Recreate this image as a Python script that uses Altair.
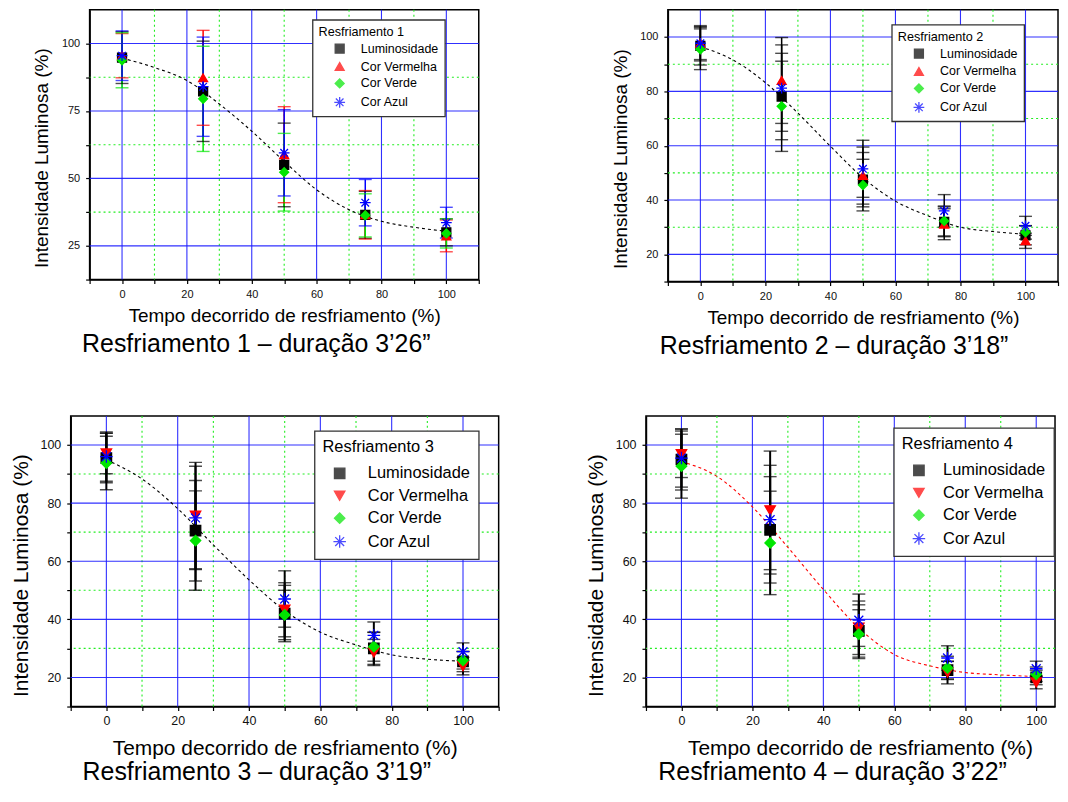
import json
import altair as alt
import pandas as pd

# ---------------- data ----------------
SERIES = ["Luminosidade", "Cor Vermelha", "Cor Verde", "Cor Azul"]
SERIES_COLORS = ["#000000", "#ff0000", "#00e600", "#0000ff"]
ASTERISK = "M-1.2,0L1.2,0M0,-1.2L0,1.2M-0.85,-0.85L0.85,0.85M-0.85,0.85L0.85,-0.85"
SHAPES_UP = ["square", "triangle-up", "diamond", ASTERISK]
SHAPES_DOWN = ["square", "triangle-down", "diamond", ASTERISK]

TIME_PCT = [0, 25, 50, 75, 100]

# Resfriamento 1
R1_LUM = [94.8, 82.3, 55.0, 36.5, 30.0]
R1_LUM_ERR = [9.6, 18.6, 15.5, 8.7, 5.0]
R1_RED = [95.5, 87.3, 58.8, 36.5, 28.7]
R1_RED_ERR = [8.2, 17.6, 17.8, 9.0, 5.9]
R1_GREEN = [93.8, 79.5, 52.3, 36.3, 29.6]
R1_GREEN_ERR = [10.2, 19.5, 14.4, 8.0, 5.4]
R1_BLUE = [95.5, 84.0, 59.5, 41.0, 33.6]
R1_BLUE_ERR = [9.2, 18.4, 16.0, 8.6, 5.7]

# Resfriamento 2
R2_LUM = [96.7, 78.1, 47.5, 32.0, 27.0]
R2_LUM_ERR = [7.0, 15.9, 10.0, 5.5, 3.5]
R2_RED = [97.7, 84.0, 49.0, 31.1, 25.0]
R2_RED_ERR = [6.5, 15.8, 10.5, 5.7, 2.8]
R2_GREEN = [95.5, 74.5, 45.5, 32.3, 28.1]
R2_GREEN_ERR = [7.5, 16.6, 9.5, 5.5, 2.5]
R2_BLUE = [97.7, 81.2, 51.5, 36.0, 30.5]
R2_BLUE_ERR = [6.0, 15.9, 10.5, 6.0, 3.5]

# Resfriamento 3
R3_LUM = [95.5, 70.5, 42.0, 30.0, 25.5]
R3_LUM_ERR = [8.5, 17.3, 9.7, 5.5, 3.5]
R3_RED = [97.1, 75.7, 43.3, 28.6, 23.9]
R3_RED_ERR = [7.0, 18.3, 9.3, 4.5, 3.0]
R3_GREEN = [93.8, 67.1, 41.5, 30.6, 25.9]
R3_GREEN_ERR = [9.2, 17.1, 8.5, 5.0, 3.0]
R3_BLUE = [96.0, 74.9, 47.0, 34.5, 28.9]
R3_BLUE_ERR = [8.5, 17.8, 9.7, 4.6, 3.0]

# Resfriamento 4
R4_LUM = [95.0, 70.8, 36.0, 22.5, 20.0]
R4_LUM_ERR = [10.5, 18.3, 9.0, 3.0, 2.5]
R4_RED = [96.8, 77.5, 37.1, 21.7, 18.3]
R4_RED_ERR = [8.0, 20.4, 9.2, 3.9, 2.2]
R4_GREEN = [92.7, 66.3, 34.9, 23.3, 21.1]
R4_GREEN_ERR = [11.0, 17.8, 8.4, 4.0, 2.5]
R4_BLUE = [95.5, 74.3, 39.7, 26.7, 23.0]
R4_BLUE_ERR = [10.0, 18.7, 9.0, 4.2, 2.6]

# fitted (dashed) curves, read at every 10 %
FIT_X = [0, 10, 20, 30, 40, 50, 60, 70, 80, 90, 100]
R1_FIT = [94.6, 91.1, 86.3, 77.6, 67.5, 56.3, 45.8, 38.4, 34.1, 31.9, 30.4]
R2_FIT = [96.4, 91.6, 83.2, 72.0, 59.8, 48.2, 39.6, 34.2, 30.0, 28.4, 27.4]
R3_FIT = [94.9, 88.3, 78.1, 65.6, 53.6, 43.0, 35.6, 31.2, 27.8, 26.3, 25.6]
R4_FIT = [94.3, 89.2, 78.7, 64.8, 50.3, 37.0, 27.9, 24.0, 21.7, 20.9, 20.3]

# axes / grids
X_TICKS = [-10, 0, 10, 20, 30, 40, 50, 60, 70, 80, 90, 100, 110]
X_TICKS_R4 = [-10, 0, 10, 20, 30, 40, 50, 60, 70, 80, 90, 100]
X_TICK_LABELS = [0, 20, 40, 60, 80, 100]
X_GRID_MAJOR = [0, 20, 40, 60, 80, 100]
X_GRID_MINOR = [10, 30, 50, 70, 90]

R1_Y_TICKS = [12.5, 25, 37.5, 50, 62.5, 75, 87.5, 100]
R1_Y_TICK_LABELS = [25, 50, 75, 100]
R1_Y_GRID_MINOR = [37.5, 62.5, 87.5]
Y_TICKS = [10, 20, 30, 40, 50, 60, 70, 80, 90, 100]
Y_TICK_LABELS = [20, 40, 60, 80, 100]
Y_GRID_MINOR = [30, 50, 70, 90]

X_TITLE = "Tempo decorrido de resfriamento (%)"
Y_TITLE = "Intensidade Luminosa (%)"
SUBTITLES = [
    "Resfriamento 1 \u2013 dura\u00e7\u00e3o 3\u201926\u201d",
    "Resfriamento 2 \u2013 dura\u00e7\u00e3o 3\u201918\u201d",
    "Resfriamento 3 \u2013 dura\u00e7\u00e3o 3\u201919\u201d",
    "Resfriamento 4 \u2013 dura\u00e7\u00e3o 3\u201922\u201d",
]

FONT = "Liberation Sans"
GRID_BLUE = "#1a1aff"
GRID_GREEN = "#22ee22"


def label_expr(values):
    return "indexof(" + json.dumps(values) + ", datum.value) >= 0 ? datum.label : ''"


def make_panel(num, means, errs, fit, fit_color, shapes, colored_bars,
               y_dom, y_ticks, y_labels, y_major, y_minor,
               x_dom, x_ticks, w, h, st):
    rows = []
    for s, c, m, e in zip(SERIES, SERIES_COLORS, means, errs):
        for t, v, d in zip(TIME_PCT, m, e):
            rows.append({"t": t, "v": v, "lo": v - d, "hi": v + d, "serie": s,
                         "ec": c if colored_bars else "#000000"})
    pts = pd.DataFrame(rows)
    caps = pd.concat([pts.assign(cap=pts["lo"]), pts.assign(cap=pts["hi"])])
    fit_df = pd.DataFrame({"fx": FIT_X, "fy": fit})

    xscale = alt.Scale(domain=x_dom, nice=False, zero=False)
    yscale = alt.Scale(domain=y_dom, nice=False, zero=False)
    common = dict(grid=False, labelFont=FONT, titleFont=FONT, labelColor="#111111",
                  titleColor="#000000", titleFontWeight="normal", tickColor="#000000",
                  domainColor="#000000", domainWidth=1.5, tickWidth=1.2, tickSize=4,
                  labelOverlap=False, labelFlush=False,
                  labelFontSize=st["lfs"], titleFontSize=st["tfs"])
    xextra = {"titleX": st["xtx"]} if "xtx" in st else {}
    xaxis = alt.Axis(title=X_TITLE, values=x_ticks, labelExpr=label_expr(X_TICK_LABELS),
                     labelPadding=st["xlp"], titlePadding=st["xtp"], **xextra, **common)
    yaxis = alt.Axis(title=Y_TITLE, values=y_ticks, labelExpr=label_expr(y_labels),
                     labelPadding=st["ylp"], titlePadding=st["ytp"],
                     titleY=h / 2 + st["tyoff"], **common)

    def X(f):
        return alt.X(f, type="quantitative", scale=xscale, axis=xaxis)

    def Y(f):
        return alt.Y(f, type="quantitative", scale=yscale, axis=yaxis)

    gx_major = alt.Chart(pd.DataFrame({"g": X_GRID_MAJOR})).mark_rule(
        color=GRID_BLUE, strokeWidth=1.1, opacity=0.9).encode(x=X("g"))
    gx_minor = alt.Chart(pd.DataFrame({"g": X_GRID_MINOR})).mark_rule(
        color=GRID_GREEN, strokeWidth=1.1, strokeDash=[2, 3]).encode(x=X("g"))
    gy_major = alt.Chart(pd.DataFrame({"g": y_major})).mark_rule(
        color=GRID_BLUE, strokeWidth=1.1, opacity=0.9).encode(y=Y("g"))
    gy_minor = alt.Chart(pd.DataFrame({"g": y_minor})).mark_rule(
        color=GRID_GREEN, strokeWidth=1.1, strokeDash=[2, 3]).encode(y=Y("g"))

    stems = alt.Chart(pts).mark_rule(strokeWidth=st["sw"]).encode(
        x=X("t"), y=Y("lo"), y2="hi", color=alt.Color("ec:N", scale=None))
    capmarks = alt.Chart(caps).mark_tick(orient="horizontal", size=13, thickness=1.4).encode(
        x=X("t"), y=Y("cap"), color=alt.Color("ec:N", scale=None))
    fitline = alt.Chart(fit_df).mark_line(
        color=fit_color, strokeWidth=1.1, strokeDash=[3, 3], interpolate="monotone"
    ).encode(x=X("fx"), y=Y("fy"))

    leg = alt.Legend(
        title="Resfriamento %d" % num, orient="none", legendX=st["lx"], legendY=st["ly"],
        direction="vertical", columns=1,
        fillColor="#ffffff", strokeColor="#333333", padding=st["lpad"],
        titleFont=FONT, labelFont=FONT, titleFontSize=st["ltfs"], labelFontSize=st["llfs"],
        titleFontWeight="normal", titleColor="#000000", labelColor="#000000",
        symbolSize=st["ss"], symbolOffset=st["so"], labelOffset=st["lo"],
        rowPadding=st["rp"], titlePadding=st["ltp"], symbolStrokeWidth=1.3,
    )
    cscale = alt.Scale(domain=SERIES, range=SERIES_COLORS)
    points = alt.Chart(pts).mark_point(filled=True, opacity=1, size=st["ss"], strokeWidth=1.3).encode(
        x=X("t"), y=Y("v"),
        color=alt.Color("serie:N", scale=cscale, legend=leg, sort=SERIES),
        stroke=alt.Stroke("serie:N", scale=cscale, legend=leg, sort=SERIES),
        shape=alt.Shape("serie:N", scale=alt.Scale(domain=SERIES, range=shapes), legend=leg, sort=SERIES),
    )

    return alt.layer(gx_minor, gy_minor, gx_major, gy_major, stems, capmarks, fitline, points).properties(
        width=w, height=h,
        title=alt.TitleParams(SUBTITLES[num - 1], orient="bottom", anchor="middle", font=FONT,
                              fontSize=25, fontWeight="normal", color="#000000",
                              dx=st["dx"], offset=st["toff"]),
    )


small = dict(lfs=11, tfs=19, xlp=5, xtp=7.5, ylp=6, ytp=9.5, tyoff=13, sw=1.5,
             lpad=6, ltfs=12.7, llfs=12.5, ss=81, so=15, lo=15, rp=3, ltp=4,
             dx=-28, toff=6.5)
big = dict(lfs=12.5, tfs=21, xlp=4.5, xtp=10, ylp=6, ytp=9, tyoff=14, sw=2,
           lpad=8, ltfs=16.5, llfs=16.5, ss=110, so=9, lo=20, rp=5.5, ltp=10,
           dx=-28, toff=1.5)

p1 = make_panel(1, [R1_LUM, R1_RED, R1_GREEN, R1_BLUE],
                [R1_LUM_ERR, R1_RED_ERR, R1_GREEN_ERR, R1_BLUE_ERR],
                R1_FIT, "#000000", SHAPES_UP, True,
                [12.5, 112.5], R1_Y_TICKS, R1_Y_TICK_LABELS, R1_Y_TICK_LABELS, R1_Y_GRID_MINOR,
                [-10, 110], X_TICKS, 391, 271, dict(small, lx=224, ly=10))
p2 = make_panel(2, [R2_LUM, R2_RED, R2_GREEN, R2_BLUE],
                [R2_LUM_ERR, R2_RED_ERR, R2_GREEN_ERR, R2_BLUE_ERR],
                R2_FIT, "#000000", SHAPES_UP, False,
                [10, 110], Y_TICKS, Y_TICK_LABELS, Y_TICK_LABELS, Y_GRID_MINOR,
                [-10, 110], X_TICKS, 392, 273, dict(small, lx=225, ly=15, dx=-29))
p3 = make_panel(3, [R3_LUM, R3_RED, R3_GREEN, R3_BLUE],
                [R3_LUM_ERR, R3_RED_ERR, R3_GREEN_ERR, R3_BLUE_ERR],
                R3_FIT, "#000000", SHAPES_DOWN, False,
                [10, 110], Y_TICKS, Y_TICK_LABELS, Y_TICK_LABELS, Y_GRID_MINOR,
                [-10, 110], X_TICKS, 430, 292, dict(big, lx=245, ly=15))
p4 = make_panel(4, [R4_LUM, R4_RED, R4_GREEN, R4_BLUE],
                [R4_LUM_ERR, R4_RED_ERR, R4_GREEN_ERR, R4_BLUE_ERR],
                R4_FIT, "#ff0000", SHAPES_DOWN, False,
                [10, 110], Y_TICKS, Y_TICK_LABELS, Y_TICK_LABELS, Y_GRID_MINOR,
                [-10, 105.3], X_TICKS_R4, 411, 292, dict(big, lx=249, ly=12, lo=16, dx=-18, xtx=215))


def spacer():
    return alt.Chart(pd.DataFrame({"s": [0]})).mark_rule(opacity=0).encode(
        x=alt.value(0), y=alt.value(0), y2=alt.value(1)
    ).properties(width=1, height=1, view=alt.ViewBackground(strokeOpacity=0))


RES = dict(color="independent", shape="independent", stroke="independent",
           x="independent", y="independent")
LRES = dict(color="independent", shape="independent", stroke="independent")

in1 = alt.hconcat(spacer(), p1, spacing=23).resolve_scale(**RES).resolve_legend(**LRES)
in2 = alt.hconcat(spacer(), p3, spacing=0).resolve_scale(**RES).resolve_legend(**LRES)
row1 = alt.hconcat(in1, p2, spacing=130).resolve_scale(**RES).resolve_legend(**LRES)
row2 = alt.hconcat(in2, p4, spacing=84).resolve_scale(**RES).resolve_legend(**LRES)

chart = alt.vconcat(row1, row2, spacing=54).resolve_scale(**RES).resolve_legend(**LRES).properties(
    padding={"left": 0, "top": -2, "right": 0, "bottom": 0},
    background="#ffffff",
).configure(font=FONT).configure_view(stroke="#000000", strokeWidth=1.5).configure_legend(
    strokeWidth=1.3
)

chart.save("out.html", embed_options={"renderer": "svg", "actions": False})
